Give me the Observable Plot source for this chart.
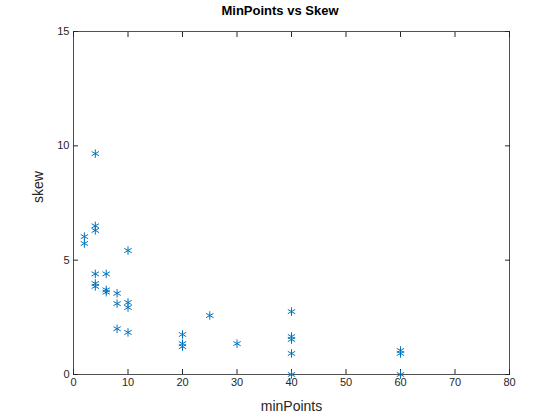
<!DOCTYPE html>
<html>
<head>
<meta charset="UTF-8">
<style>
  body { margin: 0; background: #fff; font-family: 'Liberation Sans', Arial, sans-serif; }
  #title { height: 23px; width: 560px; text-align: center; font-weight: bold; font-size: 13px; padding-top: 3px; box-sizing: border-box; }
  #chart svg { display: block; }
</style>
</head>
<body>
<div id="title">MinPoints vs Skew</div>
<div id="chart"></div>
<script src="https://cdn.jsdelivr.net/npm/d3@7"></script>
<script src="https://cdn.jsdelivr.net/npm/@observablehq/plot@0.6"></script>
<script>
  const minPoints = [2, 2, 4, 4, 4, 4, 4, 4, 6, 6, 6, 8, 8, 8, 10, 10, 10, 10, 20, 20, 20, 25, 30, 40, 40, 40, 40, 40, 60, 60, 60];
  const skew = [6.03, 5.73, 9.66, 6.5, 6.3, 4.4, 3.98, 3.85, 4.4, 3.7, 3.6, 3.55, 3.1, 2.0, 5.42, 3.15, 2.93, 1.84, 1.75, 1.35, 1.22, 2.58, 1.35, 2.75, 1.66, 1.53, 0.92, 0, 1.05, 0.92, 0];
  const xTicks = [0, 10, 20, 30, 40, 50, 60, 70, 80];
  const yTicks = [0, 5, 10, 15];

  const data = minPoints.map((x, i) => ({x, y: skew[i]}));

  const plot = Plot.plot({
    width: 560,
    height: 397,
    marginLeft: 73,
    marginRight: 51,
    marginTop: 8,
    marginBottom: 46,
    style: {fontSize: 11, fontFamily: "'Liberation Sans', Arial, sans-serif", color: "#262626"},
    x: {domain: [0, 80]},
    y: {domain: [0, 15]},
    marks: [
      Plot.frame({stroke: "#262626", strokeWidth: 0.8}),
      Plot.axisX({ticks: xTicks, tickSize: -5, tickPadding: 9, label: null}),
      Plot.axisX({anchor: "top", ticks: xTicks, tickSize: -5, tickFormat: () => "", label: null}),
      Plot.axisY({ticks: yTicks, tickSize: -5, tickPadding: 9, label: null}),
      Plot.axisY({anchor: "right", ticks: yTicks, tickSize: -5, tickFormat: () => "", label: null}),
      Plot.text(["minPoints"], {frameAnchor: "bottom", dy: 36, fontSize: 14, fill: "#262626"}),
      Plot.text(["skew"], {frameAnchor: "left", dx: -35, rotate: -90, fontSize: 14, fill: "#262626"}),
      Plot.dot(data, {x: "x", y: "y", symbol: "asterisk", r: 4, stroke: "#0072BD", strokeWidth: 1})
    ]
  });
  document.querySelector("#chart").append(plot);
</script>
</body>
</html>
